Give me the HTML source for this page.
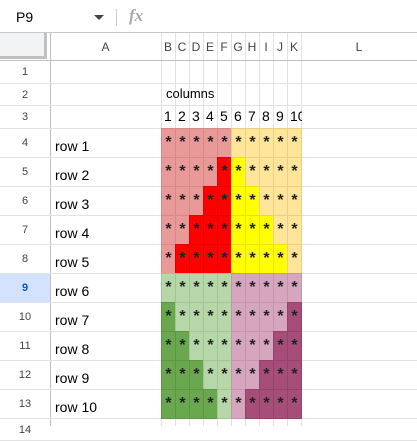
<!DOCTYPE html>
<html><head><meta charset="utf-8">
<style>
*{box-sizing:border-box;margin:0;padding:0}
body{width:417px;height:426px;overflow:hidden;background:#fff;font-family:"Liberation Sans",Arial,sans-serif;position:relative}
.abs{position:absolute}
.hdr{position:absolute;color:#444;font-size:11px;display:flex;align-items:center;justify-content:center}
.cell{position:absolute;display:flex;align-items:flex-start;justify-content:center;font-size:16px;line-height:16px;color:#222;font-weight:bold}
.txt{position:absolute;font-size:13px;color:#000;display:flex;align-items:flex-end;padding-bottom:4px}
</style></head><body>
<div class="abs" style="left:0;top:0;width:417px;height:33px;background:#fff;border-bottom:1px solid #c7c7c7"></div>
<div class="abs" style="left:16px;top:9px;font-size:14px;color:#000">P9</div>
<div class="abs" style="left:94px;top:15px;width:0;height:0;border-left:5px solid transparent;border-right:5px solid transparent;border-top:5px solid #444"></div>
<div class="abs" style="left:116px;top:9px;width:1px;height:17px;background:#ccc"></div>
<div class="abs" style="left:129px;top:6px;font-size:17px;font-style:italic;font-family:'Liberation Serif',serif;color:#aaa;font-weight:bold">fx</div>
<div id="grid"></div>
<script>
const colNames=["A","B","C","D","E","F","G","H","I","J","K","L"];
const colEdges=[50,161,175,189,203,217,231,245,259,273,287,301,417];
const rowEdges=[33,60,83,105,128,157,186,215,244,273,302,331,360,389,418,440];
const rowLabels=["row 1","row 2","row 3","row 4","row 5","row 6","row 7","row 8","row 9","row 10"];
const colNumbers=["1","2","3","4","5","6","7","8","9","10"];
const topRedCounts=[0,1,2,3,4];
const topYellowCounts=[0,1,2,3,4];
const bottomGreenCounts=[0,1,2,3,4];
const bottomPinkCounts=[0,1,2,3,4];
const C={lr:"#ea9999",r:"#ff0000",ly:"#ffe599",y:"#ffff00",lg:"#b6d7a8",g:"#6aa84f",lp:"#d5a6bd",p:"#a64d79"};
const B={lr:"#d48a8a",r:"#e00000",ly:"#e8d08a",y:"#e6e600",lg:"#a3c495",g:"#5e9646",lp:"#c195aa",p:"#93446b"};
const g=document.getElementById('grid');
function add(html,cls,x,y,w,h,style){const d=document.createElement('div');d.className=cls;d.style.left=x+'px';d.style.top=y+'px';d.style.width=w+'px';d.style.height=h+'px';if(style)d.style.cssText+=style;d.textContent=html;g.appendChild(d);return d;}
for(let i=0;i<colEdges.length;i++){const l=add('','abs',colEdges[i],33,1,393,'background:'+(i==0?'#c0c0c0':'#e2e2e2'));}
for(let j=1;j<rowEdges.length;j++){const l=add('','abs',0,rowEdges[j],417,1,'background:'+(j==1?'#c0c0c0':'#e2e2e2'));}
const corner=add('','abs',0,33,47,26,'background:#f1f3f4;border-right:3px solid #c0c0c0;border-bottom:3px solid #c0c0c0');


for(let i=0;i<colNames.length;i++){const h=add(colNames[i],'hdr',colEdges[i],33,colEdges[i+1]-colEdges[i],27,'font-size:12px');}
for(let j=0;j<14;j++){const sel=j==8;const h=add(String(j+1),'hdr',0,rowEdges[j+1]+1,50,rowEdges[j+2]-rowEdges[j+1]-1,sel?'background:#d3e3fd;color:#0b57d0;font-weight:bold':'');}
const t=add('columns','txt',166,rowEdges[2],120,rowEdges[3]-rowEdges[2]);


for(let i=0;i<10;i++){const w=colEdges[i+2]-colEdges[i+1];const n=add(colNumbers[i],'txt',colEdges[i+1]+3,rowEdges[3],i==9?12:w,rowEdges[4]-rowEdges[3],'overflow:hidden;font-size:14px');}
for(let k=0;k<10;k++){const l=add(rowLabels[k],'txt',55,rowEdges[k+4],100,rowEdges[k+5]-rowEdges[k+4],'font-size:14px;padding-bottom:3px');}
for(let k=0;k<10;k++){
 for(let c=0;c<10;c++){
  let key;
  if(k<5){ if(c<5) key=(c>=5-topRedCounts[k])?'r':'lr'; else key=(c-5<topYellowCounts[k])?'y':'ly'; }
  else { const m=k-5; if(c<5) key=(c<bottomGreenCounts[m])?'g':'lg'; else key=(c>=10-bottomPinkCounts[m])?'p':'lp'; }
  const x=colEdges[c+1],y=rowEdges[k+4],w=colEdges[c+2]-x,h=rowEdges[k+5]-y;
  const d=add('*','cell',x,y,w+1,h+1,'background:'+C[key]+';border:1px solid '+B[key]+';padding-top:6px');
  
  
 }
}
</script>
</body></html>
